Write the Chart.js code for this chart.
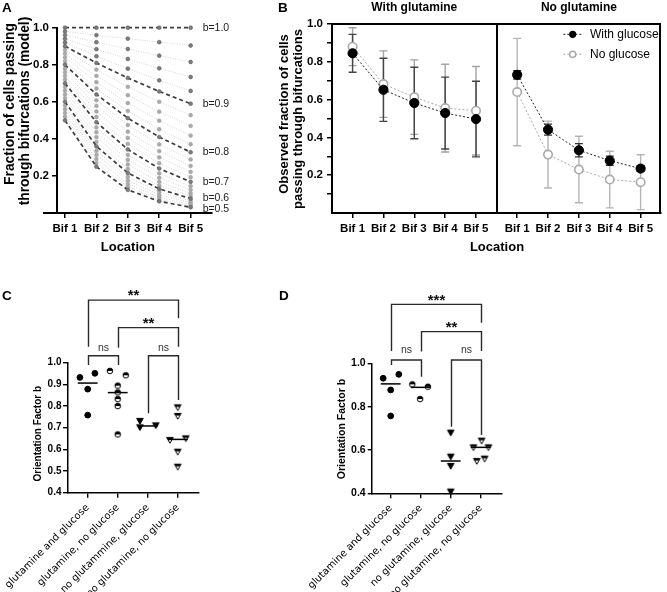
<!DOCTYPE html>
<html><head><meta charset="utf-8"><title>Bifurcation chart</title>
<script src="https://cdn.jsdelivr.net/npm/chart.js@4.4.1/dist/chart.umd.min.js"></script>
<style>
html,body{margin:0;padding:0;background:#fff;}
body{width:667px;height:592px;position:relative;overflow:hidden;}
canvas{position:absolute;display:block;}
</style></head><body>
<canvas id="cA" width="240" height="262" style="left:0;top:0"></canvas>
<canvas id="cB" width="427" height="262" style="left:240px;top:0"></canvas>
<canvas id="cC" width="330" height="312" style="left:0;top:280px"></canvas>
<canvas id="cD" width="377" height="312" style="left:290px;top:280px"></canvas>
<script>
// ---------------- DATA ----------------
// Panel A: model fraction of cells passing through bifurcations, per orientation factor b
const bifLabels = ['Bif 1','Bif 2','Bif 3','Bif 4','Bif 5'];
const bifPositions = [1,2,3,4,5];
const modelB = [1.00,0.98,0.96,0.94,0.92,0.90,0.88,0.86,0.84,0.82,0.80,0.78,0.76,0.74,0.72,0.70,0.68,0.66,0.64,0.62,0.60,0.58,0.56,0.54,0.52,0.50];
const modelFraction = [
  [1.000,1.000,1.000,1.000,1.000],
  [0.980,0.960,0.941,0.922,0.904],
  [0.960,0.922,0.885,0.849,0.815],
  [0.940,0.884,0.831,0.781,0.734],
  [0.920,0.846,0.779,0.716,0.659],
  [0.900,0.810,0.729,0.656,0.590],
  [0.880,0.774,0.681,0.600,0.528],
  [0.860,0.740,0.636,0.547,0.470],
  [0.840,0.706,0.593,0.498,0.418],
  [0.820,0.672,0.551,0.452,0.371],
  [0.800,0.640,0.512,0.410,0.328],
  [0.780,0.608,0.475,0.370,0.289],
  [0.760,0.578,0.439,0.334,0.254],
  [0.740,0.548,0.405,0.300,0.222],
  [0.720,0.518,0.373,0.269,0.193],
  [0.700,0.490,0.343,0.240,0.168],
  [0.680,0.462,0.314,0.214,0.145],
  [0.660,0.436,0.287,0.190,0.125],
  [0.640,0.410,0.262,0.168,0.107],
  [0.620,0.384,0.238,0.148,0.092],
  [0.600,0.360,0.216,0.130,0.078],
  [0.580,0.336,0.195,0.113,0.066],
  [0.560,0.314,0.176,0.098,0.055],
  [0.540,0.292,0.157,0.085,0.046],
  [0.520,0.270,0.141,0.073,0.038],
  [0.500,0.250,0.125,0.063,0.031]
];
const labeledB = [1.0,0.9,0.8,0.7,0.6,0.5];
const aYTicks = [0.2,0.4,0.6,0.8,1.0];

// Panel B: observed fraction (mean, SD)
const glnWithGlcMean   = [0.845,0.652,0.582,0.529,0.497];
const glnWithGlcSD     = [0.100,0.167,0.189,0.190,0.200];
const glnNoGlcMean     = [0.880,0.682,0.613,0.555,0.541];
const glnNoGlcSD       = [0.100,0.176,0.197,0.232,0.234];
const noGlnWithGlcMean = [0.731,0.441,0.332,0.277,0.235];
const noGlnWithGlcSD   = [0.022,0.029,0.035,0.024,0.015];
const noGlnNoGlcMean   = [0.640,0.309,0.230,0.177,0.163];
const noGlnNoGlcSD     = [0.284,0.177,0.176,0.150,0.145];
const bPosLeft  = [1,2,3,4,5];
const bPosRight = [6.333,7.333,8.333,9.333,10.333];
const bYTicks = [0.1,0.2,0.3,0.4,0.5,0.6,0.7,0.8,0.9,1.0];

// Panel C: orientation factor b per condition
const groupLabelsC = ['glutamine and glucose','glutamine, no glucose','no glutammine, glucose','no glutamine, no glucose'];
const cG1 = [0.932,0.951,0.878,0.758];             const cJ1 = [-0.26,0.24,0,0];
const cG2 = [0.962,0.942,0.894,0.863,0.832,0.800,0.669]; const cJ2 = [-0.26,0.27,0,0,0,0,0];
const cG3 = [0.731,0.702,0.711];                   const cJ3 = [-0.26,-0.26,0.27];
const cG4 = [0.794,0.754,0.643,0.651,0.589,0.520]; const cJ4 = [0,0,-0.26,0.27,0,0];
const cMedian = [0.906,0.862,0.708,0.646];
const cYTicks = [0.4,0.5,0.6,0.7,0.8,0.9,1.0];
const cBrackets = [
  {x1:1,x2:4,y:1.289,y1:1.074,y2:1.205,text:'**',ty:1.328},
  {x1:2,x2:4,y:1.162,y1:1.069,y2:1.074,text:'**',ty:1.200},
  {x1:1,x2:2,y:1.032,y1:0.989,y2:0.989,text:'ns',ty:1.069},
  {x1:3,x2:4,y:1.032,y1:0.767,y2:0.828,text:'ns',ty:1.069}
];

// Panel D
const groupLabelsD = ['glutamine and glucose','glutamine, no glucose','no glutamine, glucose','no glutamine, no glucose'];
const dG1 = [0.931,0.949,0.877,0.757];       const dJ1 = [-0.25,0.27,0,0];
const dG2 = [0.903,0.892,0.835];             const dJ2 = [-0.28,0.24,-0.02];
const dG3 = [0.680,0.569,0.526,0.408];       const dJ3 = [0,0,0,0];
const dG4 = [0.612,0.643,0.612,0.549,0.560]; const dJ4 = [-0.24,0.03,0.26,-0.13,0.13];
const dMedian = [0.905,0.889,0.549,0.612];
const dYTicks = [0.4,0.6,0.8,1.0];
const dBrackets = [
  {x1:1,x2:4,y:1.272,y1:1.057,y2:1.187,text:'***',ty:1.311},
  {x1:2,x2:4,y:1.146,y1:1.054,y2:1.057,text:'**',ty:1.184},
  {x1:1,x2:2,y:1.015,y1:0.992,y2:0.938,text:'ns',ty:1.061},
  {x1:3,x2:4,y:1.015,y1:0.707,y2:0.669,text:'ns',ty:1.061}
];

// ---------------- HELPERS ----------------
const FONT = '"Liberation Sans", Arial, Helvetica, sans-serif';
Chart.defaults.font.family = FONT;
Chart.defaults.color = '#000';
function fnt(size, weight, fam){ return (weight||'normal')+' '+size+'px '+(fam||FONT); }
function rotText(ctx, text, cx, cy, font){
  ctx.save(); ctx.translate(cx,cy); ctx.rotate(-Math.PI/2);
  ctx.font=font; ctx.textAlign='center'; ctx.textBaseline='middle'; ctx.fillStyle='#000';
  ctx.fillText(text,0,0); ctx.restore();
}
function axis(o){
  return {
    grid:{display:true, drawOnChartArea:false, drawTicks:true, tickLength:o.tick, color:'#000', lineWidth:o.lw},
    border:{display:true, color:'#000', width:o.bw},
    ticks:{color:'#000', padding:o.pad, autoSkip:false, maxRotation:o.rot||0, minRotation:o.rot||0,
           font:{family:o.fam||FONT, size:o.fs, weight:o.fw||'bold'}}
  };
}
function fixTicks(list){ return function(s){ s.ticks = list.map(v=>({value:v})); }; }
const baseOpts = {responsive:false, animation:false, devicePixelRatio:1, events:[],
  plugins:{legend:{display:false}, tooltip:{enabled:false}}};

// ---------------- PANEL A ----------------
const isLabeled = b => labeledB.some(v=>Math.abs(v-b)<1e-6);
const dsA = modelB.map((b,i)=>{
  const major = isLabeled(b);
  const dark = major || b >= 0.895;
  return {
    data: modelFraction[i].map((y,j)=>({x:bifPositions[j], y})),
    borderColor: major ? '#3d3d3d' : '#c9c9c9',
    borderWidth: major ? 1.7 : 0.8,
    borderDash: major ? [4,3] : [1,1.5],
    pointRadius: 1.9,
    pointBackgroundColor: dark ? '#7c7c7c' : '#a9a9a9',
    pointBorderColor: dark ? '#5c5c5c' : '#a2a2a2',
    pointBorderWidth: 0.6,
    order: major ? 0 : 1,
    tension: 0, clip: false
  };
});
const axA = axis({tick:5, lw:1.5, bw:2, pad:3, fs:11.5});
const axAx = axis({tick:5, lw:1.5, bw:2, pad:4, fs:11.5});
const plugA = {id:'pA', afterDraw(chart){
  const {ctx, chartArea:ca, scales:{x,y}} = chart;
  ctx.save();
  ctx.strokeStyle='#000'; ctx.lineWidth=2;
  const yb = Math.round(ca.bottom);
  ctx.beginPath(); ctx.moveTo(43, yb); ctx.lineTo(ca.left, yb); ctx.stroke();
  ctx.fillStyle='#000';
  ctx.font=fnt(13.5,'bold'); ctx.textAlign='left'; ctx.textBaseline='alphabetic';
  ctx.fillText('A', 2, 12);
  rotText(ctx,'Fraction of cells passing', 10, 104, fnt(13.8,'bold'));
  rotText(ctx,'through bifurcations (model)', 25.5, 111, fnt(13.8,'bold'));
  ctx.font=fnt(13,'bold'); ctx.textAlign='center'; ctx.textBaseline='middle';
  ctx.fillText('Location', x.getPixelForValue(3), 247);
  ctx.font=fnt(10.5); ctx.textAlign='left'; ctx.fillStyle='#222';
  labeledB.forEach(b=>{
    const i = modelB.findIndex(v=>Math.abs(v-b)<1e-6);
    const yv = modelFraction[i][4];
    const py = y.getPixelForValue(yv) + (b<0.55 ? 2 : 0);
    ctx.fillText('b='+b.toFixed(1), x.getPixelForValue(5)+12, py);
  });
  ctx.restore();
}};
new Chart(document.getElementById('cA'), {
  type:'line', data:{datasets:dsA},
  options:Object.assign({}, baseOpts, {
    layout:{padding:{left:0, top:27.7, right:28, bottom:0}},
    scales:{
      x:Object.assign(axAx, {type:'linear', min:0.745, max:5.68,
        afterBuildTicks:fixTicks(bifPositions),
        afterFit(s){ s.height=49; s.paddingLeft=0; s.paddingRight=0; }}),
      y:Object.assign(axA, {type:'linear', min:0, max:1,
        afterBuildTicks:fixTicks(aYTicks),
        afterFit(s){ s.width=57; s.paddingTop=0; s.paddingBottom=0; }})
    }
  }),
  plugins:[plugA]
});
Chart.getChart('cA').options.scales.x.ticks.callback = (v,i)=>bifLabels[i];
Chart.getChart('cA').options.scales.y.ticks.callback = v=>Number(v).toFixed(1);
Chart.getChart('cA').update();

// ---------------- PANEL B ----------------
const BLACK = '#000', GREY = '#a9a9a9';
function bSeries(mean, pos, black){
  return {
    data: mean.map((y,i)=>({x:pos[i], y})),
    borderColor: black ? '#222' : GREY, borderWidth: 1, borderDash:[2,2],
    pointRadius: black ? 4.6 : 4.2,
    pointBackgroundColor: black ? BLACK : '#fff',
    pointBorderColor: black ? BLACK : GREY,
    pointBorderWidth: black ? 1 : 1.6,
    order: black ? 0 : 1, tension:0, clip:false
  };
}
const dsB = [
  bSeries(glnNoGlcMean, bPosLeft, false),
  bSeries(glnWithGlcMean, bPosLeft, true),
  bSeries(noGlnNoGlcMean, bPosRight, false),
  bSeries(noGlnWithGlcMean, bPosRight, true)
];
const errB = [
  {mean:glnNoGlcMean, sd:glnNoGlcSD, pos:bPosLeft, color:'#a3a3a3'},
  {mean:noGlnNoGlcMean, sd:noGlnNoGlcSD, pos:bPosRight, color:'#b5b5b5'},
  {mean:glnWithGlcMean, sd:glnWithGlcSD, pos:bPosLeft, color:'#444'},
  {mean:noGlnWithGlcMean, sd:noGlnWithGlcSD, pos:bPosRight, color:'#333'}
];
const plugB = {id:'pB',
  beforeDatasetsDraw(chart){
    const {ctx, scales:{x,y}} = chart;
    ctx.save(); ctx.lineWidth=1.4;
    errB.forEach(e=>{
      ctx.strokeStyle=e.color;
      e.mean.forEach((m,i)=>{
        const px=x.getPixelForValue(e.pos[i]);
        const t=y.getPixelForValue(m+e.sd[i]), b=y.getPixelForValue(m-e.sd[i]);
        ctx.beginPath(); ctx.moveTo(px,t); ctx.lineTo(px,b);
        ctx.moveTo(px-4,t); ctx.lineTo(px+4,t); ctx.moveTo(px-4,b); ctx.lineTo(px+4,b); ctx.stroke();
      });
    });
    ctx.restore();
  },
  afterDraw(chart){
    const {ctx, chartArea:ca, scales:{x,y}} = chart;
    ctx.save();
    ctx.strokeStyle='#000'; ctx.lineWidth=2;
    const top=Math.round(ca.top), right=Math.round(ca.right)-1, div=Math.round(x.getPixelForValue(5.667));
    ctx.beginPath();
    ctx.moveTo(ca.left, top); ctx.lineTo(right, top); ctx.lineTo(right, ca.bottom);
    ctx.moveTo(div, top); ctx.lineTo(div, ca.bottom);
    ctx.stroke();
    ctx.fillStyle='#000';
    ctx.font=fnt(13.5,'bold'); ctx.textAlign='left'; ctx.textBaseline='alphabetic';
    ctx.fillText('B', 38, 12);
    ctx.font=fnt(12,'bold'); ctx.textAlign='center'; ctx.textBaseline='middle';
    ctx.fillText('With glutamine', x.getPixelForValue(3), 8);
    ctx.fillText('No glutamine', x.getPixelForValue(8.333), 8);
    ctx.font=fnt(13,'bold');
    ctx.fillText('Location', div, 247);
    rotText(ctx,'Observed fraction of cells', 44, 114, fnt(13,'bold'));
    rotText(ctx,'passing through bifurcations', 58.5, 119, fnt(13,'bold'));
    const items=[{t:'With glucose', y:34.3, black:true},{t:'No glucose', y:54.3, black:false}];
    items.forEach(it=>{
      ctx.strokeStyle= it.black ? '#222' : GREY; ctx.lineWidth=1; ctx.setLineDash([2,2]);
      ctx.beginPath(); ctx.moveTo(323.3,it.y); ctx.lineTo(343.3,it.y); ctx.stroke(); ctx.setLineDash([]);
      ctx.beginPath(); ctx.arc(332.7,it.y, it.black?3.6:3.1, 0, Math.PI*2);
      if(it.black){ ctx.fillStyle='#000'; ctx.fill(); }
      else { ctx.fillStyle='#fff'; ctx.fill(); ctx.strokeStyle=GREY; ctx.lineWidth=1.5; ctx.stroke(); }
      ctx.fillStyle='#000'; ctx.font=fnt(12); ctx.textAlign='left'; ctx.textBaseline='middle';
      ctx.fillText(it.t, 350, it.y);
    });
    ctx.restore();
  }
};
const axBx = axis({tick:5, lw:1.5, bw:2, pad:4, fs:11.5});
const axBy = axis({tick:5, lw:1.5, bw:2, pad:4, fs:11.5});
new Chart(document.getElementById('cB'), {
  type:'line', data:{datasets:dsB},
  options:Object.assign({}, baseOpts, {
    layout:{padding:{left:0, top:24, right:1, bottom:0}},
    scales:{
      x:Object.assign(axBx, {type:'linear', min:0.333, max:11.0,
        afterBuildTicks:fixTicks(bPosLeft.concat(bPosRight)),
        afterFit(s){ s.height=49; s.paddingLeft=0; s.paddingRight=0; }}),
      y:Object.assign(axBy, {type:'linear', min:0, max:1,
        afterBuildTicks:fixTicks(bYTicks),
        afterFit(s){ s.width=92; s.paddingTop=0; s.paddingBottom=0; }})
    }
  }),
  plugins:[plugB]
});
Chart.getChart('cB').options.scales.x.ticks.callback = (v,i)=>bifLabels[i%5];
Chart.getChart('cB').options.scales.y.ticks.callback = v=>(Math.round(v*10)%2===0 ? Number(v).toFixed(1) : '');
Chart.getChart('cB').update();

// ---------------- PANELS C & D ----------------
function marker(kind){
  const s=12, c=document.createElement('canvas'); c.width=s; c.height=s;
  const g=c.getContext('2d'); const cx=s/2, cy=s/2;
  g.lineWidth=1; g.strokeStyle='#000';
  if(kind==='halfCircle'){
    const r=2.8;
    g.beginPath(); g.arc(cx,cy,r,0,Math.PI*2); g.fillStyle='#fff'; g.fill();
    g.beginPath(); g.arc(cx,cy,r,Math.PI,Math.PI*2); g.closePath(); g.fillStyle='#000'; g.fill();
    g.beginPath(); g.arc(cx,cy,r,0,Math.PI*2); g.stroke();
  } else {
    const path=()=>{ g.beginPath(); g.moveTo(cx-3.3,cy-2.6); g.lineTo(cx+3.3,cy-2.6); g.lineTo(cx,cy+3.2); g.closePath(); };
    if(kind==='tri'){ path(); g.fillStyle='#000'; g.fill(); g.stroke(); }
    else { path(); g.fillStyle='#fff'; g.fill();
      g.save(); path(); g.clip(); g.fillStyle='#000'; g.fillRect(0,0,s,cy-0.4); g.restore();
      path(); g.stroke(); }
  }
  return c;
}
const mkHalfCircle = marker('halfCircle'), mkTri = marker('tri'), mkHalfTri = marker('halfTri');
function pts(vals, jit, g){ return vals.map((y,i)=>({x:g+jit[i], y})); }
function scatterSets(groups, medians){
  const styles=[{pointStyle:'circle', pointRadius:2.9, pointBackgroundColor:'#000', pointBorderColor:'#000'},
                {pointStyle:mkHalfCircle, pointRadius:3},
                {pointStyle:mkTri, pointRadius:3},
                {pointStyle:mkHalfTri, pointRadius:3}];
  const ds=[];
  groups.forEach((gr,k)=>{
    ds.push(Object.assign({data:pts(gr.v, gr.j, k+1), showLine:false, clip:false, order:1}, styles[k]));
  });
  medians.forEach((m,k)=>{
    ds.push({data:[{x:k+1-0.33,y:m},{x:k+1+0.33,y:m}], showLine:true, borderColor:'#000', borderWidth:1.5, pointRadius:0, clip:false, order:0});
  });
  return ds;
}
function bracketPlugin(id, brackets, title, titleX, titleY, titleSize, letters){
  return {id, afterDraw(chart){
    const {ctx, scales:{x,y}} = chart;
    ctx.save();
    ctx.strokeStyle='#2a2a2a'; ctx.lineWidth=1.4;
    brackets.forEach(b=>{
      const x1=Math.round(x.getPixelForValue(b.x1))+0.5, x2=Math.round(x.getPixelForValue(b.x2))+0.5;
      const yl=y.getPixelForValue(b.y), ya=y.getPixelForValue(b.y1), yb=y.getPixelForValue(b.y2);
      ctx.beginPath(); ctx.moveTo(x1,ya); ctx.lineTo(x1,yl); ctx.lineTo(x2,yl); ctx.lineTo(x2,yb); ctx.stroke();
      const tx=(x1+x2)/2, ty=y.getPixelForValue(b.ty);
      ctx.textAlign='center';
      if(b.text==='ns'){ ctx.fillStyle='#333'; ctx.font=fnt(10.5); ctx.textBaseline='middle'; ctx.fillText('ns',tx,ty); }
      else { ctx.fillStyle='#111'; ctx.font=fnt(15,'bold'); ctx.textBaseline='alphabetic'; ctx.fillText(b.text,tx,ty+8.6); }
    });
    rotText(ctx, title, titleX, titleY, fnt(titleSize,'bold'));
    if(letters){ ctx.fillStyle='#000'; ctx.font=fnt(13.5,'bold'); ctx.textAlign='left'; ctx.textBaseline='alphabetic';
      letters.forEach(l=>ctx.fillText(l.t,l.x,l.y)); }
    ctx.restore();
  }};
}
function scoreChart(id, datasets, o){
  const ax = axis({tick:5, lw:1.4, bw:1.5, pad:4, fs:10, fw:'normal', fam:'"DejaVu Sans", sans-serif', rot:45});
  const ay = axis({tick:o.ytick, lw:1.4, bw:1.5, pad:o.ypad, fs:o.yfs});
  new Chart(document.getElementById(id), {
    type:'scatter', data:{datasets},
    options:Object.assign({}, baseOpts, {
      layout:{padding:{left:0, top:o.top, right:o.right, bottom:0}},
      scales:{
        x:Object.assign(ax, {type:'linear', min:o.xmin, max:o.xmax,
          afterBuildTicks:fixTicks([1,2,3,4]),
          afterFit(s){ s.height=o.xh; s.paddingLeft=0; s.paddingRight=0; }}),
        y:Object.assign(ay, {type:'linear', min:0.4, max:1.0,
          afterBuildTicks:fixTicks(o.yticks),
          afterFit(s){ s.width=o.yw; s.paddingTop=0; s.paddingBottom=0; }})
      }
    }),
    plugins:[o.plugin]
  });
  const ch = Chart.getChart(id);
  ch.options.scales.x.ticks.callback = (v,i)=>o.labels[i];
  ch.options.scales.y.ticks.callback = v=>Number(v).toFixed(1);
  ch.update();
}
scoreChart('cC', scatterSets([{v:cG1,j:cJ1},{v:cG2,j:cJ2},{v:cG3,j:cJ3},{v:cG4,j:cJ4}], cMedian), {
  top:82.7, right:131, xh:99.3, yw:68, xmin:0.343, xmax:4.71, yticks:cYTicks, ytick:5, ypad:1.5, yfs:10,
  labels:groupLabelsC,
  plugin:bracketPlugin('pC', cBrackets, 'Orientation Factor b', 38, 153.7, 10, [{t:'C',x:2,y:20},{t:'D',x:279,y:20}])
});
scoreChart('cD', scatterSets([{v:dG1,j:dJ1},{v:dG2,j:dJ2},{v:dG3,j:dJ3},{v:dG4,j:dJ4}], dMedian), {
  top:83.3, right:165.3, xh:98.7, yw:81.7, xmin:0.367, xmax:4.70, yticks:dYTicks, ytick:4, ypad:2, yfs:10.5,
  labels:groupLabelsD,
  plugin:bracketPlugin('pD', dBrackets, 'Orientation Factor b', 52.3, 149, 10.5, null)
});
</script></body></html>
